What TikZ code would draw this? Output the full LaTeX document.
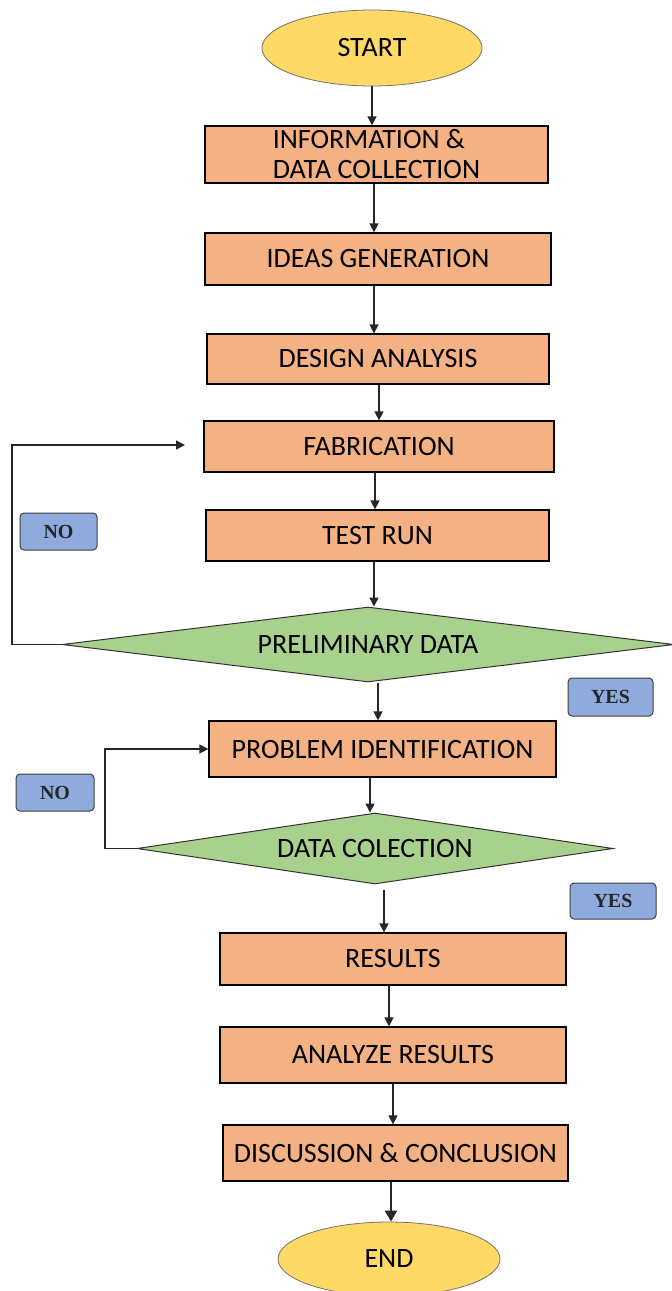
\documentclass[tikz,border=0pt]{standalone}
\usepackage{fontspec}
\setmainfont{Carlito}
\newfontfamily\labfont{Liberation Serif}
\usetikzlibrary{shapes.geometric,arrows.meta}
\definecolor{boxor}{HTML}{F4B183}
\definecolor{termyel}{HTML}{FFD966}
\definecolor{decgreen}{HTML}{A9D18E}
\definecolor{labblue}{HTML}{8FAADC}
\begin{document}
\begin{tikzpicture}[x=1pt,y=-1pt,
  txt/.style={font=\fontsize{28}{30}\selectfont},
  stepbox/.style={txt,draw=black,line width=1.3pt,fill=boxor,inner sep=0pt,rectangle},
  term/.style={txt,ellipse,draw=black!55,line width=0.8pt,fill=termyel,inner sep=0pt},
  dec/.style={txt,diamond,aspect=8,draw=black!80,line width=1pt,fill=decgreen,inner sep=0pt},
  lab/.style={draw=black!75,line width=1pt,fill=labblue,rounded corners=4pt,inner sep=0pt,
    font=\labfont\bfseries\fontsize{20}{22}\selectfont,text=black!85},
  arr/.style={draw=black!85,line width=1.5pt,-{Triangle[length=9pt,width=9pt]}}]
\useasboundingbox (0,0) rectangle (672,1291);
\node[term,minimum width=220,minimum height=76] (start) at (372,48) {START};
\node[stepbox,minimum width=343,minimum height=57,align=left] (info) at (376.5,154.5) {INFORMATION \&\\DATA COLLECTION};
\node[stepbox,minimum width=346,minimum height=52] (ideas) at (378,259) {IDEAS GENERATION};
\node[stepbox,minimum width=342,minimum height=50] (design) at (378,359) {DESIGN ANALYSIS};
\node[stepbox,minimum width=350,minimum height=51] (fab) at (379,446.5) {FABRICATION};
\node[stepbox,minimum width=343,minimum height=51] (test) at (377.5,535.5) {TEST RUN};
\node[dec,minimum width=612,minimum height=75] (pre) at (368,644.5) {PRELIMINARY DATA};
\node[stepbox,minimum width=347,minimum height=56] (pi) at (382.5,749) {PROBLEM IDENTIFICATION};
\node[dec,minimum width=476,minimum height=71] (dc) at (375,848.5) {DATA COLECTION};
\node[stepbox,minimum width=346,minimum height=52] (res) at (393,959) {RESULTS};
\node[stepbox,minimum width=346,minimum height=56] (ana) at (393,1055) {ANALYZE RESULTS};
\node[stepbox,minimum width=345,minimum height=56] (disc) at (395.5,1153) {DISCUSSION \& CONCLUSION};
\node[term,minimum width=222,minimum height=74] (end) at (389,1259) {END};

\node[lab,minimum width=77,minimum height=37] (no1) at (58.5,531.5) {NO};
\node[lab,minimum width=85,minimum height=38] (yes1) at (610.5,697) {YES};
\node[lab,minimum width=78,minimum height=37] (no2) at (55,792.5) {NO};
\node[lab,minimum width=86,minimum height=36] (yes2) at (613,901) {YES};

\draw[arr] (start.south -| 372,0) -- (info.north -| 372,0);
\draw[arr] (info.south -| 374,0) -- (ideas.north -| 374,0);
\draw[arr] (ideas.south -| 374,0) -- (design.north -| 374,0);
\draw[arr] (design.south -| 379,0) -- (fab.north -| 379,0);
\draw[arr] (fab.south -| 375,0) -- (test.north -| 375,0);
\draw[arr] (test.south -| 374,0) -- (pre.north -| 374,0);
\draw[arr] (pre.south -| 378,0) -- (pi.north -| 378,0);
\draw[arr] (pi.south -| 370,0) -- (dc.north -| 370,0);
\draw[arr] (384,890) -- (res.north -| 384,0);
\draw[arr] (res.south -| 389,0) -- (ana.north -| 389,0);
\draw[arr] (ana.south -| 393,0) -- (disc.north -| 393,0);
\draw[arr,line width=2pt,-{Triangle[length=11pt,width=12pt]}] (disc.south -| 391,0) -- (end.north -| 391,0);

\coordinate (f1) at (185,445);
\draw[arr] (pre.west) -- (12,644.5) |- (f1);
\draw[arr] (dc.west) -- (105,848.5) |- (pi.west);
\end{tikzpicture}
\end{document}
